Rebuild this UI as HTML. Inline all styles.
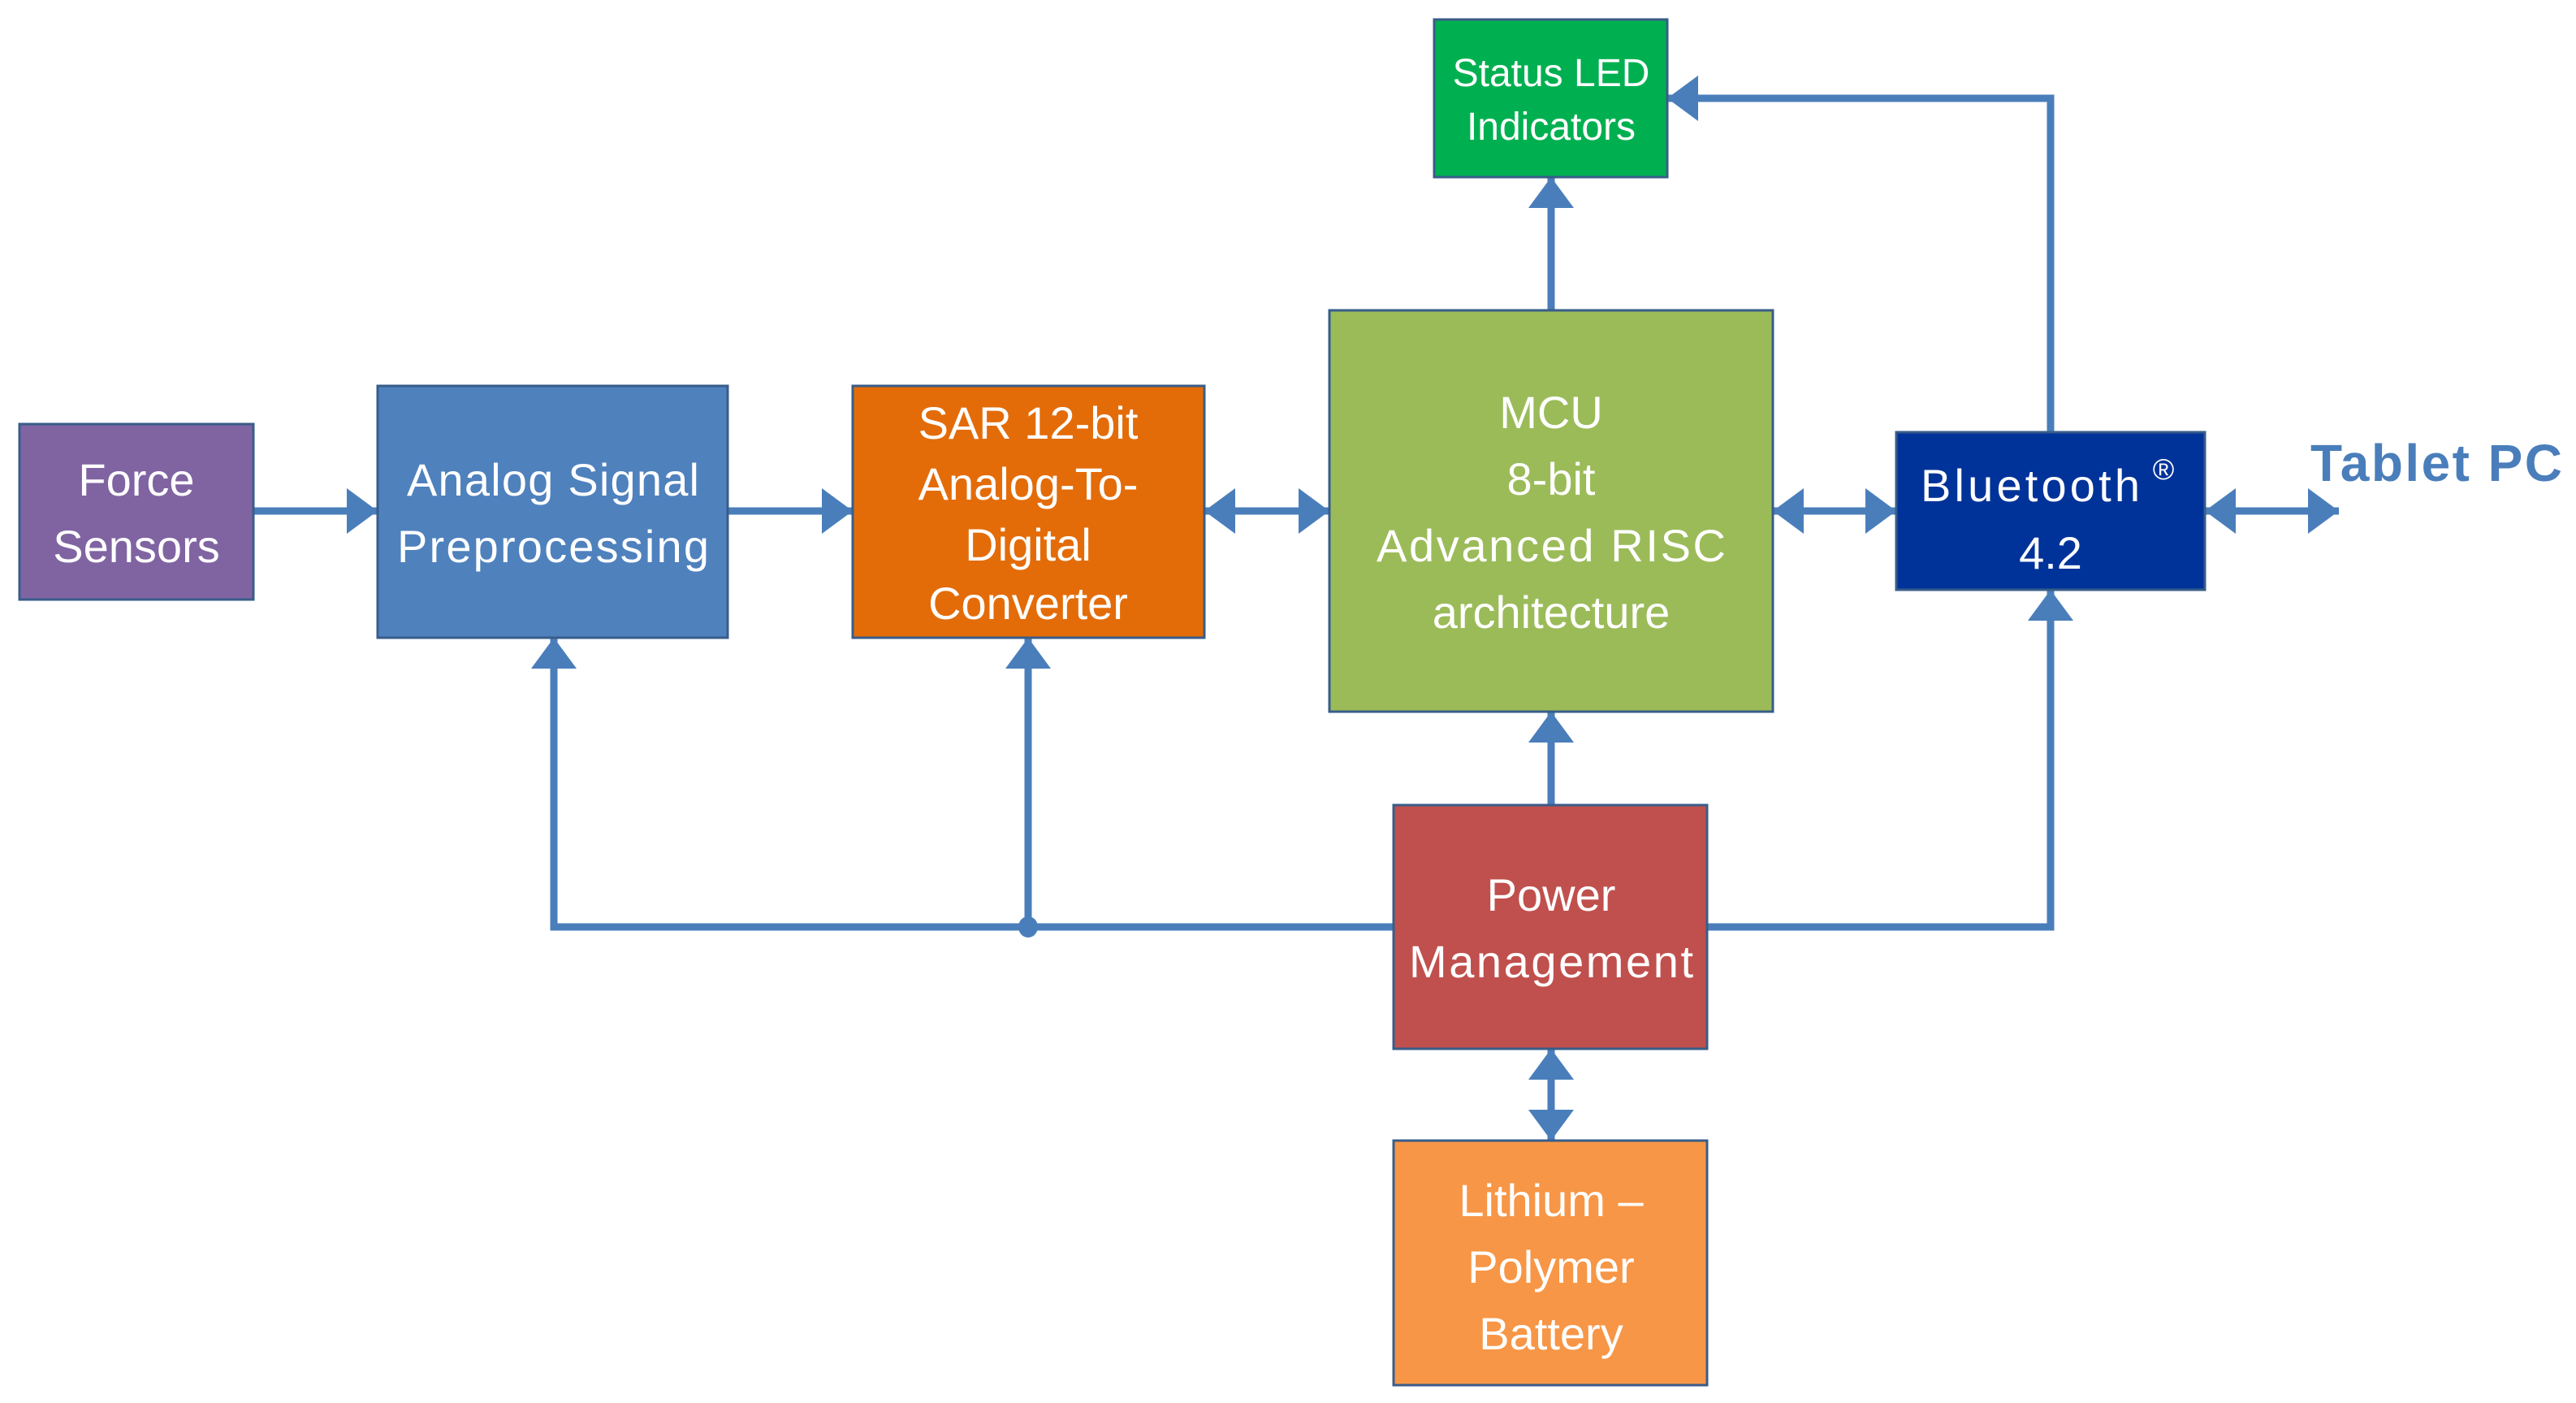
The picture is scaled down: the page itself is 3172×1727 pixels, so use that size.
<!DOCTYPE html>
<html><head><meta charset="utf-8"><style>
html,body{margin:0;padding:0;background:#fff;}
svg{display:block;}
text{font-family:"Liberation Sans",sans-serif;fill:#fff;text-anchor:middle;}
</style></head><body>
<svg width="3172" height="1727" viewBox="0 0 3172 1727" xmlns="http://www.w3.org/2000/svg">
<defs>
<marker id="a" markerWidth="38" markerHeight="56" refX="38" refY="28" orient="auto" markerUnits="userSpaceOnUse" overflow="visible">
<path d="M0,0 L38,28 L0,56 Z" fill="#4A7EBB"/>
</marker>
<marker id="s" markerWidth="38" markerHeight="56" refX="0" refY="28" orient="auto" markerUnits="userSpaceOnUse" overflow="visible">
<path d="M38,0 L0,28 L38,56 Z" fill="#4A7EBB"/>
</marker>
</defs>
<g stroke="#4A7EBB" stroke-width="9" fill="none">
<line x1="312" y1="629" x2="465" y2="629" marker-end="url(#a)"/>
<line x1="896" y1="629" x2="1050" y2="629" marker-end="url(#a)"/>
<line x1="1483" y1="629" x2="1637" y2="629" marker-start="url(#s)" marker-end="url(#a)"/>
<line x1="2183" y1="629" x2="2335" y2="629" marker-start="url(#s)" marker-end="url(#a)"/>
<line x1="2715" y1="629" x2="2880" y2="629" marker-start="url(#s)" marker-end="url(#a)"/>
<line x1="1910" y1="382" x2="1910" y2="218" marker-end="url(#a)"/>
<polyline points="2525,532 2525,121 2053,121" marker-end="url(#a)"/>
<line x1="1910" y1="991" x2="1910" y2="876" marker-end="url(#a)"/>
<line x1="1910" y1="1291" x2="1910" y2="1404" marker-start="url(#s)" marker-end="url(#a)"/>
<polyline points="1716,1141 682,1141 682,785" marker-end="url(#a)"/>
<line x1="1266" y1="1141" x2="1266" y2="785" marker-end="url(#a)"/>
<polyline points="2102,1141 2525,1141 2525,726" marker-end="url(#a)"/>
</g>
<ellipse cx="1266" cy="1141" rx="12" ry="13" fill="#4A7EBB"/>
<g stroke="#385D8A" stroke-width="3">
<rect x="24" y="522" width="288" height="216" fill="#8064A2"/>
<rect x="465" y="475" width="431" height="310" fill="#4F81BD"/>
<rect x="1050" y="475" width="433" height="310" fill="#E36C09"/>
<rect x="1637" y="382" width="546" height="494" fill="#9BBB59"/>
<rect x="1766" y="24" width="287" height="194" fill="#00B050"/>
<rect x="2335" y="532" width="380" height="194" fill="#003399"/>
<rect x="1716" y="991" width="386" height="300" fill="#C0504D"/>
<rect x="1716" y="1404" width="386" height="301" fill="#F79646"/>
</g>
<g font-size="56">
<text x="168" y="610">Force</text>
<text x="168" y="692">Sensors</text>
<text x="681" y="610" textLength="360">Analog Signal</text>
<text x="681" y="692" textLength="384">Preprocessing</text>
<text x="1266" y="540">SAR 12-bit</text>
<text x="1266" y="615">Analog-To-</text>
<text x="1266" y="690">Digital</text>
<text x="1266" y="762">Converter</text>
<text x="1910" y="527">MCU</text>
<text x="1910" y="609">8-bit</text>
<text x="1910" y="691" textLength="430">Advanced RISC</text>
<text x="1910" y="773">architecture</text>
<text x="2500" y="617" textLength="270">Bluetooth</text>
<text x="2525" y="700">4.2</text>
<text x="1910" y="1121">Power</text>
<text x="1910" y="1203" textLength="350">Management</text>
<text x="1910" y="1497">Lithium –</text>
<text x="1910" y="1579">Polymer</text>
<text x="1910" y="1661">Battery</text>
</g>
<text x="2664" y="590" font-size="36">®</text>
<g font-size="48">
<text x="1910" y="106">Status LED</text>
<text x="1910" y="172">Indicators</text>
</g>
<text x="3000" y="592" font-size="64" font-weight="bold" textLength="310" style="fill:#4A7EBB">Tablet PC</text>
</svg>
</body></html>
